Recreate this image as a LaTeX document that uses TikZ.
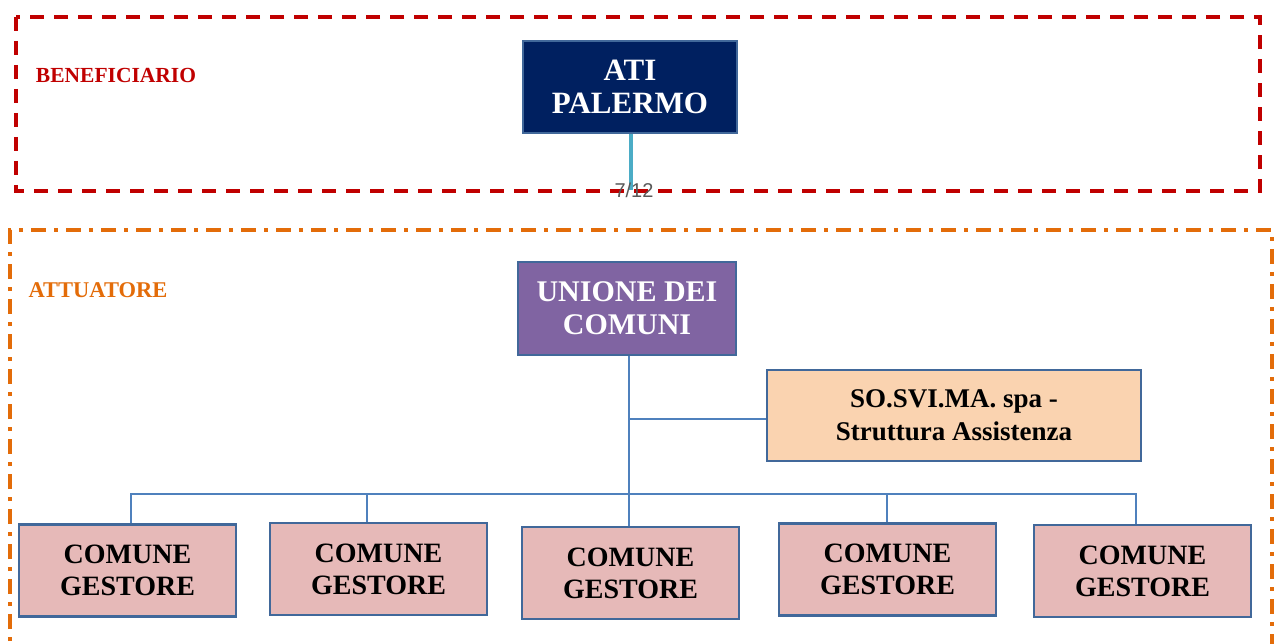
\documentclass[tikz,border=0pt]{standalone}
\usepackage{fontspec}
\setmainfont{Liberation Serif}
\newfontfamily\pgsans{Liberation Sans}
\definecolor{redd}{HTML}{C00000}
\definecolor{orng}{HTML}{E36C09}
\definecolor{navy}{HTML}{002060}
\definecolor{purp}{HTML}{8064A2}
\definecolor{peach}{HTML}{FAD3B0}
\definecolor{pinkb}{HTML}{E6B9B8}
\definecolor{bordr}{HTML}{41689A}
\definecolor{lnk}{HTML}{4F81BD}
\definecolor{cyanl}{HTML}{4BACC6}
\begin{document}
\begin{tikzpicture}[x=1pt,y=-1pt,
  box/.style={draw=bordr,line width=2.5pt,minimum width=#1,inner sep=0pt,align=center,font=\bfseries},
  comune/.style={box=217pt,fill=pinkb,minimum height=92pt,font=\bfseries\fontsize{28}{32}\selectfont},
  link/.style={draw=lnk,line width=1.3pt}]
\useasboundingbox (0,0) rectangle (1274,644);
% frames
\draw[redd,line width=4pt,dash pattern=on 14pt off 10pt] (16,17) rectangle (1260,191);
\draw[orng,line width=4pt,dash pattern=on 15pt off 8pt on 4pt off 8pt] (10,644+20) -- (10,230) -- (1272,230) -- (1272,644+20);
\node[text=redd,font=\bfseries\fontsize{21.5}{24}\selectfont] (ben) at (116,75) {BENEFICIARIO};
\node[text=orng,font=\bfseries\fontsize{22.5}{24}\selectfont] (att) at (98,290) {ATTUATORE};
% nodes
\node[box=214pt,fill=navy,minimum height=92pt,text=white,font=\bfseries\fontsize{31}{33}\selectfont] (ati) at (630,87) {ATI\\PALERMO};
\node[box=218pt,fill=purp,minimum height=93pt,text=white,font=\bfseries\fontsize{30}{33}\selectfont] (uni) at (627,308.5) {UNIONE DEI\\COMUNI};
\node[box=374pt,fill=peach,minimum height=91pt,font=\bfseries\fontsize{27}{33}\selectfont] (sos) at (954,415.5) {SO.SVI.MA. spa -\\Struttura Assistenza};
\node[comune] (c1) at (127.5,570.5) {COMUNE\\GESTORE};
\node[comune] (c2) at (378.5,569) {COMUNE\\GESTORE};
\node[comune] (c3) at (630.5,573) {COMUNE\\GESTORE};
\node[comune] (c4) at (887.5,569.5) {COMUNE\\GESTORE};
\node[comune] (c5) at (1142.5,571) {COMUNE\\GESTORE};
% connectors
\coordinate (ab) at (631,190);
\draw[cyanl,line width=4pt] (ati.south -| ab) -- (ab);
\node[text=black!65,font=\pgsans\fontsize{20}{22}\selectfont] (pg) at (634,190) {7/12};
\coordinate (j1) at (629,419);
\coordinate (bus) at (629,494);
\coordinate (b4) at (887,494);
\coordinate (b5) at (1136,494);
\draw[link] (uni.south -| j1) -- (j1) -- (bus) -- (c3.north -| bus);
\draw[link] (j1) -- (sos.west |- j1);
\draw[link] (c1.north -| 131,0) -- (131,494) -- (bus);
\draw[link] (c2.north -| 367,0) -- (367,494);
\draw[link] (bus) -- (b4) -- (c4.north -| b4);
\draw[link] (b4) -- (b5) -- (c5.north -| b5);
\end{tikzpicture}
\end{document}
